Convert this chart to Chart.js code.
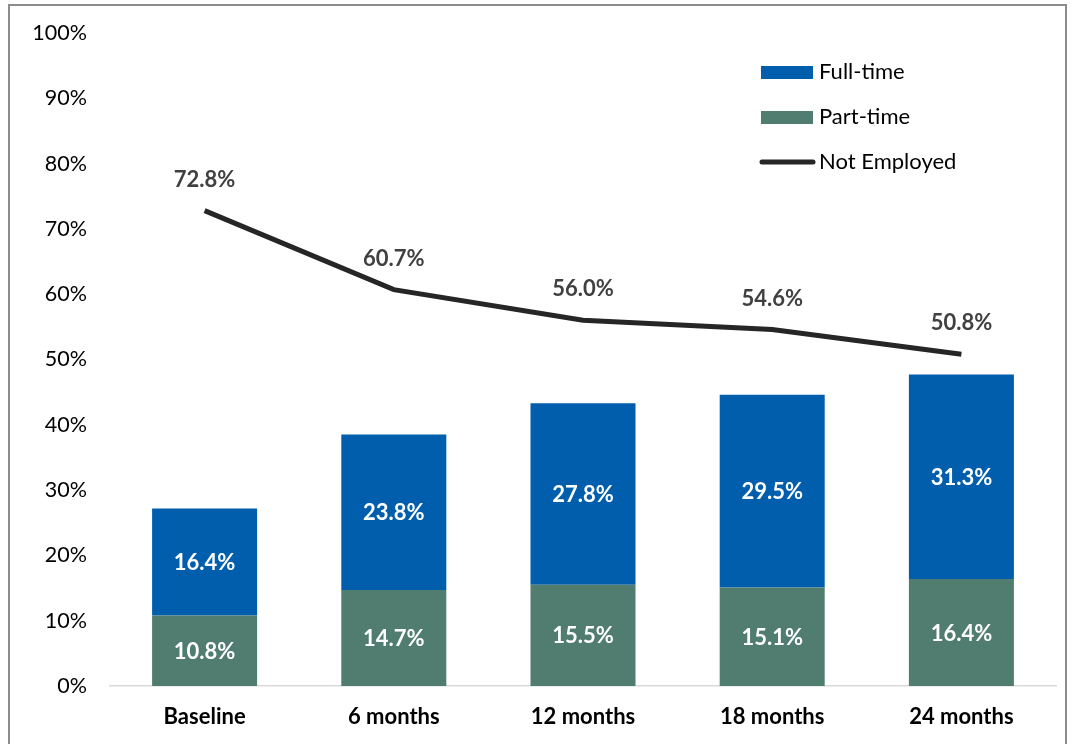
<!DOCTYPE html>
<html>
<head>
<meta charset="utf-8">
<script src="https://cdn.jsdelivr.net/npm/chart.js@4/dist/chart.umd.min.js"></script>
<style>
  html, body { margin: 0; padding: 0; background: #fff; }
  #wrap { width: 1073px; height: 744px; position: relative; }
</style>
</head>
<body>
<div id="wrap"><canvas id="employmentChart" width="1073" height="744"></canvas></div>
<script>
// Employment status over follow-up periods
const categories = ['Baseline', '6 months', '12 months', '18 months', '24 months'];
const partTime = [10.8, 14.7, 15.5, 15.1, 16.4];
const fullTime = [16.4, 23.8, 27.8, 29.5, 31.3];
const notEmployed = [72.8, 60.7, 56.0, 54.6, 50.8];
const yTicks = [0, 10, 20, 30, 40, 50, 60, 70, 80, 90, 100];

const FONT = 'Lato, "Open Sans", sans-serif';
const BLUE = '#005EAC';
const GREEN = '#507D6F';
const LINE = '#262626';

// outer frame around the chart
const framePlugin = {
    id: 'frame',
    beforeDraw(chart) {
        const ctx = chart.ctx;
        ctx.save();
        ctx.strokeStyle = '#8c8c8c';
        ctx.lineWidth = 2;
        ctx.strokeRect(9, 5, 1057, 760);
        ctx.restore();
    }
};

// value labels on bar segments and above line points
const valueLabels = {
    id: 'valueLabels',
    afterDatasetsDraw(chart) {
        const ctx = chart.ctx;
        ctx.save();
        ctx.textAlign = 'center';
        ctx.textBaseline = 'middle';
        ctx.font = 'bold 22px ' + FONT;
        chart.data.datasets.forEach((ds, i) => {
            const meta = chart.getDatasetMeta(i);
            meta.data.forEach((el, j) => {
                const txt = ds.data[j].toFixed(1) + '%';
                if (ds.type === 'line') {
                    ctx.fillStyle = '#404040';
                    ctx.fillText(txt, el.x, el.y - 31);
                } else {
                    ctx.fillStyle = '#ffffff';
                    ctx.fillText(txt, el.x, (el.y + el.base) / 2 + 1);
                }
            });
        });
        ctx.restore();
    }
};

// legend in the upper right corner
const legendBox = {
    id: 'legendBox',
    afterDraw(chart) {
        const ctx = chart.ctx;
        const items = [
            { label: 'Full-time', color: BLUE, kind: 'box', y: 72 },
            { label: 'Part-time', color: GREEN, kind: 'box', y: 117 },
            { label: 'Not Employed', color: LINE, kind: 'line', y: 162 }
        ];
        ctx.save();
        ctx.font = '22px ' + FONT;
        ctx.textBaseline = 'middle';
        ctx.textAlign = 'left';
        items.forEach(it => {
            if (it.kind === 'box') {
                ctx.fillStyle = it.color;
                ctx.fillRect(761, it.y - 6, 52, 13);
            } else {
                ctx.strokeStyle = it.color;
                ctx.lineWidth = 5;
                ctx.lineCap = 'round';
                ctx.beginPath();
                ctx.moveTo(762, it.y);
                ctx.lineTo(813, it.y);
                ctx.stroke();
            }
            ctx.fillStyle = '#000';
            ctx.fillText(it.label, 819, it.y);
        });
        ctx.restore();
    }
};

const ctx = document.getElementById('employmentChart').getContext('2d');
new Chart(ctx, {
    type: 'bar',
    data: {
        labels: categories,
        datasets: [
            {
                type: 'line',
                label: 'Not Employed',
                data: notEmployed,
                borderColor: LINE,
                borderWidth: 5,
                pointRadius: 0,
                tension: 0,
                fill: false,
                stack: 'ne',
                order: 0
            },
            {
                label: 'Part-time',
                data: partTime,
                backgroundColor: GREEN,
                stack: 'emp',
                order: 1,
                categoryPercentage: 1,
                barPercentage: 0.555
            },
            {
                label: 'Full-time',
                data: fullTime,
                backgroundColor: BLUE,
                stack: 'emp',
                order: 1,
                categoryPercentage: 1,
                barPercentage: 0.555
            }
        ]
    },
    options: {
        responsive: false,
        animation: false,
        layout: { padding: { top: 33, right: 17, bottom: 0, left: 0 } },
        plugins: {
            legend: { display: false },
            tooltip: { enabled: false }
        },
        scales: {
            x: {
                stacked: true,
                afterFit(scale) { scale.height = 58; },
                grid: { display: false },
                border: { display: true, color: '#d9d9d9', width: 1.5 },
                ticks: {
                    color: '#000',
                    padding: 10,
                    font: { family: FONT, size: 22, weight: 'bold' }
                }
            },
            y: {
                stacked: true,
                min: 0,
                max: 100,
                afterBuildTicks(scale) {
                    scale.ticks = yTicks.map(v => ({ value: v }));
                },
                afterFit(scale) { scale.width = 110; },
                grid: { display: false },
                border: { display: false },
                ticks: {
                    color: '#000',
                    padding: 15,
                    font: { family: FONT, size: 21.5 },
                    callback: v => v + '%'
                }
            }
        }
    },
    plugins: [framePlugin, valueLabels, legendBox]
});
</script>
</body>
</html>
